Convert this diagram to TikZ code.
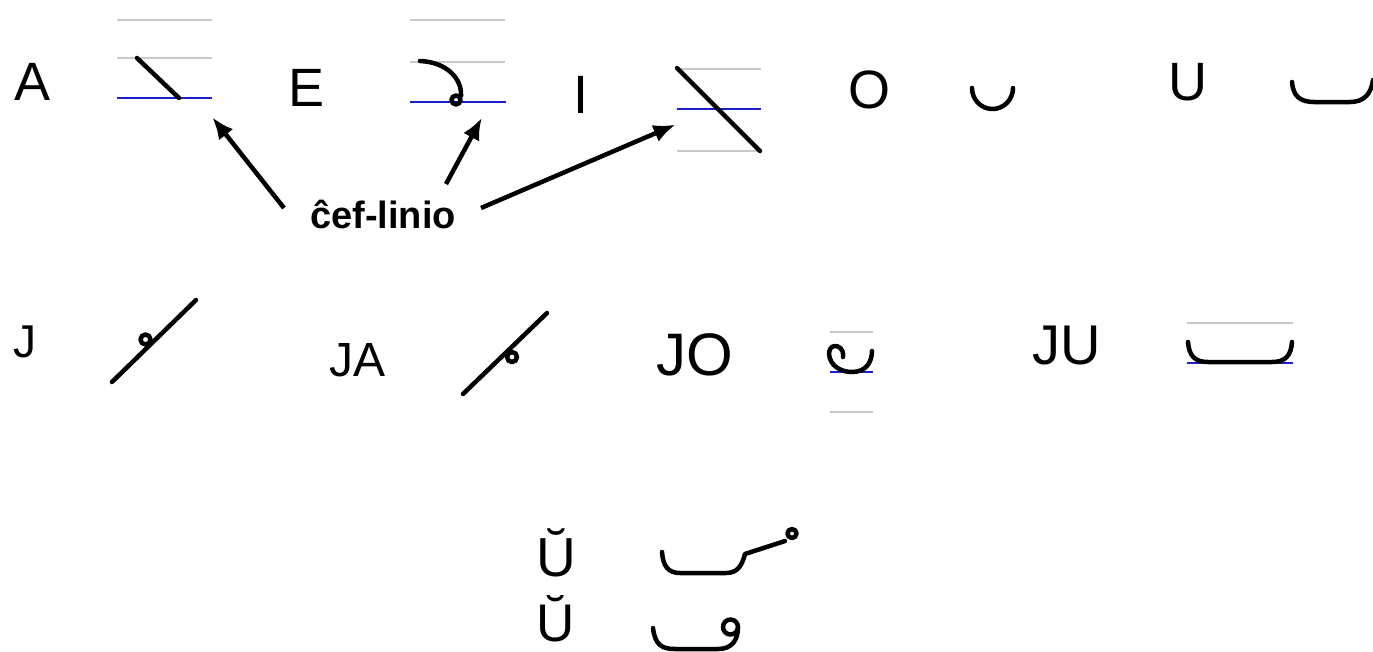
\documentclass[tikz,border=0pt]{standalone}
\usepackage{fontspec}
\setmainfont{Liberation Sans}
\usetikzlibrary{arrows.meta}
\definecolor{guide}{RGB}{200,200,200}
\definecolor{base}{RGB}{30,30,200}
\tikzset{
  glyph/.style={line width=4.5pt, line cap=round, line join=round, black},
  gline/.style={line width=2.5pt, guide},
  bline/.style={line width=2.5pt, base},
  letter/.style={inner sep=0pt, font=\fontsize{54}{60}\selectfont},
  arr/.style={line width=4.5pt, -{Latex[length=22pt,width=18pt]}, shorten >=-6pt}
}
\begin{document}
\begin{tikzpicture}[x=1pt,y=-1pt]
\useasboundingbox (0,0) rectangle (1373,651);
% letters
\node[letter] (A) at (33,82) {A};
\node[letter] (E) at (307,88) {E};
\node[letter] (I) at (581,95) {I};
\node[letter] (O) at (869,90) {O};
\node[letter] (U) at (1188,82) {U};
\node[letter, font=\fontsize{46}{50}\selectfont] (J) at (25,342) {J};
\node[letter, font=\fontsize{48}{50}\selectfont] (JA) at (358,360) {JA};
\node[letter, font=\fontsize{60}{64}\selectfont] (JO) at (695,355) {JO};
\node[letter, font=\fontsize{56}{60}\selectfont] (JU) at (1067,346) {JU};
\node[letter, font=\fontsize{55}{58}\selectfont, anchor=base, text depth=0pt] (U1) at (556,576) {Ŭ};
\node[letter, font=\fontsize{53}{56}\selectfont, anchor=base, text depth=0pt] (U2) at (556,641) {Ŭ};
% label
\node[inner sep=0pt, font=\bfseries\fontsize{38}{42}\selectfont] (lbl) at (383,214) {ĉef-linio};

% A
\draw[gline] (117,20) -- (212,20);
\draw[gline] (117,58) -- (212,58);
\draw[bline] (117,98) -- (212,98);
\draw[glyph] (137,58) -- (179,98);
% E
\draw[gline] (410,20) -- (505,20);
\draw[gline] (410,62) -- (505,62);
\draw[bline] (410,102) -- (506,102);
\draw[glyph] (420,61) .. controls (446,62) and (462,78) .. (461,96);
\draw[glyph] (456,100) circle (4.5);
% I
\draw[gline] (677,69) -- (761,69);
\draw[bline] (677,109) -- (761,109);
\draw[gline] (677,151) -- (761,151);
\draw[glyph] (677,68) -- (760,151);
% O
\draw[glyph] (972,88) arc[start angle=180, end angle=360, x radius=20.5, y radius=-21];
% U
\draw[glyph] (1292,82) .. controls (1293,96) and (1300,102) .. (1314,102) -- (1350,102) .. controls (1364,102) and (1371,94) .. (1373,80);
% J
\draw[glyph] (112,382) -- (196,300);
\draw[glyph] (145.5,339.5) circle (5);
% JA
\draw[glyph] (463,394) -- (547,313);
\draw[glyph] (512,357) circle (5);
% JO
\draw[gline] (830,332) -- (873,332);
\draw[bline] (830,372) -- (873,372);
\draw[gline] (830,412) -- (873,412);
\draw[glyph] (843,357) .. controls (844,348) and (838,346) .. (835,346) .. controls (831,346) and (829,350) .. (829,354) .. controls (830,366) and (841,372) .. (852,372) .. controls (866,372) and (872,362) .. (872,351);
% JU
\draw[gline] (1187,323) -- (1293,323);
\draw[bline] (1187,363) -- (1293,363);
\draw[glyph] (1188,342) .. controls (1189,356) and (1195,362) .. (1208,362) -- (1272,362) .. controls (1285,362) and (1291,356) .. (1292,342);
% U-breve 1
\draw[glyph] (662,552) .. controls (663,566) and (668,573) .. (680,573) -- (726,573) .. controls (738,573) and (742,565) .. (745,554) -- (785,541);
\draw[glyph] (792,533.5) circle (4.5);
% U-breve 2
\draw[glyph] (653,628) .. controls (655,645) and (662,649) .. (675,649) -- (718,649) .. controls (732,649) and (738,640) .. (738,627);
\draw[glyph] (730.5,627) circle (7.5);

% arrows
\coordinate (s1) at (284,208);
\coordinate (t1) at (216,122);
\coordinate (s2) at (446,184);
\coordinate (t2) at (479,123);
\coordinate (s3) at (481,208);
\coordinate (t3) at (670,127);
\draw[arr] (s1) -- (t1);
\draw[arr] (s2) -- (t2);
\draw[arr] (s3) -- (t3);
\end{tikzpicture}
\end{document}
